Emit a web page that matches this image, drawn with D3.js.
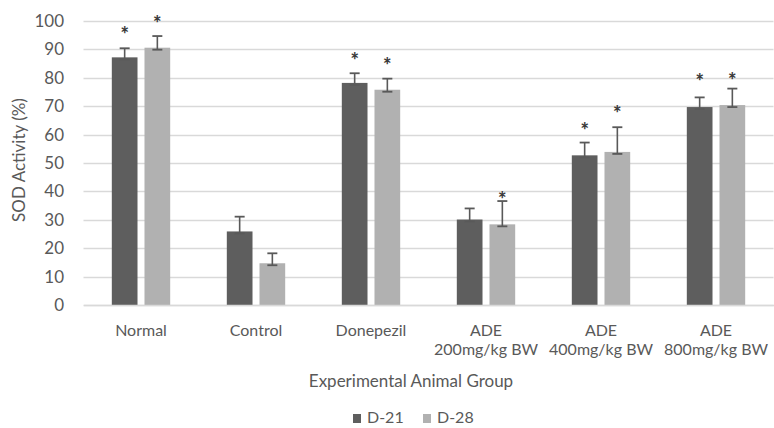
<!DOCTYPE html>
<html>
<head>
<meta charset="utf-8">
<script src="https://cdn.jsdelivr.net/npm/d3@7"></script>
<style>
  html, body { margin: 0; padding: 0; background: #ffffff; }
  svg { display: block; }
  text { font-family: Lato, "Open Sans", sans-serif; fill: #595959; }
</style>
</head>
<body>
<svg id="chart" width="774" height="428"></svg>
<script>
// ---- data ----
const categories = ["Normal", "Control", "Donepezil", "ADE 200mg/kg BW", "ADE 400mg/kg BW", "ADE 800mg/kg BW"];
const categoryLines = [["Normal"], ["Control"], ["Donepezil"], ["ADE", "200mg/kg BW"], ["ADE", "400mg/kg BW"], ["ADE", "800mg/kg BW"]];
const seriesNames = ["D-21", "D-28"];
const d21 = [87.2, 25.9, 78.2, 30.1, 52.7, 69.7];
const d28 = [90.6, 14.7, 75.8, 28.4, 53.9, 70.4];
const err21 = [3.2, 5.2, 3.4, 3.9, 4.5, 3.4];
const err28 = [4.1, 3.5, 3.9, 8.2, 8.7, 5.8];
const star21 = [96.0, null, 87.1, null, 62.2, 79.5];
const star28 = [100.1, null, 85.3, 38.2, 68.2, 80.1];
const yTicks = [0, 10, 20, 30, 40, 50, 60, 70, 80, 90, 100];
const yTitle = "SOD Activity (%)";
const xTitle = "Experimental Animal Group";

const colors = { "D-21": "#5e5e5e", "D-28": "#b1b1b1" };

// ---- layout ----
const svg = d3.select("#chart");
const plot = { left: 83.5, right: 773.5, top: 21, bottom: 305 };

const x = d3.scaleBand().domain(categories).range([plot.left, plot.right]).paddingInner(0).paddingOuter(0);
const xs = d3.scaleBand().domain(seriesNames).range([0, x.bandwidth()]).paddingInner(0.214).paddingOuter(0.866);
const y = d3.scaleLinear().domain([0, 100]).range([plot.bottom, plot.top]);

// gridlines
svg.append("g").selectAll("line").data(yTicks).join("line")
  .attr("x1", plot.left).attr("x2", plot.right)
  .attr("y1", d => Math.round(y(d)) + 0.5).attr("y2", d => Math.round(y(d)) + 0.5)
  .attr("stroke", "#d9d9d9").attr("stroke-width", 1.3);

// y axis labels
const yAxis = svg.append("g").attr("transform", "translate(68,0)")
  .call(d3.axisLeft(y).tickValues(yTicks).tickSize(0).tickPadding(4));
yAxis.select(".domain").remove();
yAxis.selectAll("text").style("font-size", "17px").style("fill", "#595959").style("font-family", "Lato, sans-serif");

// data rows
const rows = categories.map((c, i) => ([
  { cat: c, s: "D-21", v: d21[i], e: err21[i], star: star21[i] },
  { cat: c, s: "D-28", v: d28[i], e: err28[i], star: star28[i] }
])).flat();

// bars
svg.append("g").selectAll("rect").data(rows).join("rect")
  .attr("x", d => x(d.cat) + xs(d.s))
  .attr("width", xs.bandwidth())
  .attr("y", d => y(d.v))
  .attr("height", d => y(0) - y(d.v))
  .attr("fill", d => colors[d.s]);

// error bars
const eb = svg.append("g").attr("stroke", "#595959").attr("fill", "none");
const cx = d => x(d.cat) + xs(d.s) + xs.bandwidth() / 2;
eb.selectAll("line.v").data(rows).join("line").attr("class", "v")
  .attr("x1", cx).attr("x2", cx)
  .attr("y1", d => y(d.v) + 2).attr("y2", d => y(d.v + d.e))
  .attr("stroke-width", 1.6);
eb.selectAll("line.top").data(rows).join("line").attr("class", "top")
  .attr("x1", d => cx(d) - 5).attr("x2", d => cx(d) + 5)
  .attr("y1", d => y(d.v + d.e)).attr("y2", d => y(d.v + d.e))
  .attr("stroke-width", 1.8);
eb.selectAll("line.bot").data(rows).join("line").attr("class", "bot")
  .attr("x1", d => cx(d) - 5).attr("x2", d => cx(d) + 5)
  .attr("y1", d => y(d.v) + 2).attr("y2", d => y(d.v) + 2)
  .attr("stroke-width", 1.8);

// significance stars
svg.append("g").selectAll("text").data(rows.filter(d => d.star != null)).join("text")
  .attr("x", cx)
  .attr("y", d => y(d.star) + 10)
  .attr("text-anchor", "middle")
  .style("font-size", "20px").style("font-weight", "900").style("fill", "#3a3a3a")
  .text("*");

// x axis labels (each line as its own text)
const xAxis = svg.append("g").attr("transform", `translate(0,${plot.bottom})`)
  .call(d3.axisBottom(x).tickSize(0).tickFormat(""));
xAxis.select(".domain").attr("stroke", "#d9d9d9").attr("stroke-width", 1.3);
xAxis.selectAll(".tick").each(function(d, i) {
  const g = d3.select(this);
  categoryLines[i].forEach((ln, j) => {
    g.append("text")
      .attr("x", 0).attr("y", 31 + j * 19)
      .attr("text-anchor", "middle")
      .style("font-size", "16px").style("fill", "#595959").style("font-family", "Lato, sans-serif")
      .text(ln);
  });
});

// axis titles
svg.append("text")
  .attr("transform", "translate(25,160) rotate(-90)")
  .attr("text-anchor", "middle")
  .style("font-size", "17px")
  .text(yTitle);

svg.append("text")
  .attr("x", 411).attr("y", 387)
  .attr("text-anchor", "middle")
  .style("font-size", "17px")
  .text(xTitle);

// legend
const legend = svg.append("g");
const legendX = [353, 423];
seriesNames.forEach((s, i) => {
  legend.append("rect").attr("x", legendX[i]).attr("y", 414).attr("width", 8).attr("height", 9).attr("fill", colors[s]);
  legend.append("text").attr("x", legendX[i] + 14).attr("y", 423).style("font-size", "16px").text(s);
});
</script>
</body>
</html>
